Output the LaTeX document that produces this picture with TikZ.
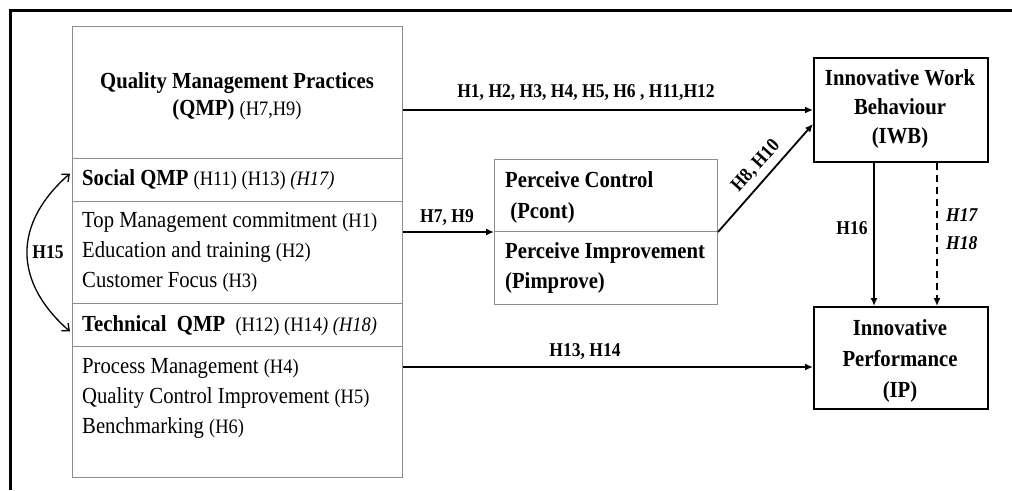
\documentclass[tikz,border=0pt]{standalone}
\usepackage{fontspec}
\setmainfont{Liberation Serif}[FakeStretch=0.9]
\usetikzlibrary{arrows.meta}

\definecolor{boxgray}{RGB}{140,140,140}
\newcommand{\bodyfont}{\fontsize{23}{30}\selectfont}
\newcommand{\hsmall}{\fontsize{20.5}{30}\selectfont}
\newcommand{\lblfont}{\fontsize{19.5}{28}\selectfont\bfseries}

\begin{document}
\begin{tikzpicture}[x=1pt,y=-1pt,
  sect/.style={draw=boxgray, line width=1pt, inner sep=0pt, anchor=north west, minimum width=330},
  pbox/.style={draw=boxgray, line width=1pt, inner sep=0pt, anchor=north west, minimum width=223},
  obox/.style={draw=black, line width=2pt, inner sep=0pt, anchor=north west, minimum width=174},
  txt/.style={font=\bodyfont, inner sep=0pt, anchor=west, align=left},
  ctxt/.style={font=\bodyfont\bfseries, inner sep=0pt, align=center},
  lbl/.style={font=\lblfont, inner sep=0pt},
  conn/.style={line width=1.8pt, -{Latex[length=8pt,width=7pt]}},
  dconn/.style={line width=1.5pt, dash pattern=on 7pt off 5pt, -{Latex[length=8pt,width=7pt]}},
  harrow/.style={line width=1.3pt, {Straight Barb[length=6pt,width=10pt]}-{Straight Barb[length=6pt,width=10pt]}}
]
\useasboundingbox (0,0) rectangle (1012,490);

% outer frame (open on the right and bottom)
\draw[line width=3pt] (10,490) -- (10,10) -- (1012,10);

% quality management practices column
\node[sect, minimum height=132] (qmp) at (72,26) {};
\node[sect, minimum height=43] (social) at (72,158) {};
\node[sect, minimum height=102] (socitems) at (72,201) {};
\node[sect, minimum height=43] (tech) at (72,303) {};
\node[sect, minimum height=131] (techitems) at (72,346) {};

\node[ctxt, align=center, font=\fontsize{23}{27}\selectfont\bfseries] (qmptxt) at (237,96)
  {Quality Management Practices\\(QMP) {\mdseries\hsmall (H7,H9)}};
\node[txt] (soctxt) at (82,180)
  {\textbf{Social QMP} {\hsmall (H11) (H13) \textit{(H17)}}};
\node[txt] (socitxt) at (82,252)
  {Top Management commitment {\hsmall (H1)}\\Education and training {\hsmall (H2)}\\Customer Focus {\hsmall (H3)}};
\node[txt] (techtxt) at (82,326)
  {\textbf{Technical\ \ QMP}\ \ {\hsmall (H12) (H14\textit{) (H18)}}};
\node[txt] (techitxt) at (82,398)
  {Process Management {\hsmall (H4)}\\Quality Control Improvement {\hsmall (H5)}\\Benchmarking {\hsmall (H6)}};

% perceived control / improvement
\node[pbox, minimum height=72] (pc) at (494,159) {};
\node[pbox, minimum height=73] (pi) at (494,231) {};
\node[txt, font=\fontsize{23}{31}\selectfont\bfseries] (pctxt) at (505,197) {Perceive Control\\\ (Pcont)};
\node[txt, font=\fontsize{23}{30}\selectfont\bfseries] (pitxt) at (505,268) {Perceive Improvement\\(Pimprove)};

% outcome boxes
\node[obox, minimum height=104] (iwb) at (813,57) {};
\node[ctxt, font=\fontsize{23}{29}\selectfont\bfseries] (iwbtxt) at (900,109) {Innovative Work\\Behaviour\\(IWB)};
\node[obox, minimum height=102] (ip) at (813,306) {};
\node[ctxt, font=\fontsize{23}{31}\selectfont\bfseries] (iptxt) at (900,361) {Innovative\\Performance\\(IP)};

% connectors
\coordinate (iwbin) at ([yshift=-14pt]iwb.west);
\coordinate (ipin) at ([yshift=-9pt]ip.west);
\draw[conn] (iwb.west -| qmp.east) -- (iwb.west);
\draw[conn] (pc.south west -| socitems.east) -- (pc.south west);
\draw[conn] (pc.south east) -- (iwbin);
\draw[conn] (ipin -| techitems.east) -- (ipin);
\draw[conn] ([xshift=-27pt]iwb.south) -- ([xshift=-27pt]ip.north);
\draw[dconn] ([xshift=36pt]iwb.south) -- ([xshift=36pt]ip.north);
\draw[harrow] ([xshift=-2pt,yshift=6.5pt]social.west) .. controls +(-57,50) and +(-57,-50) .. ([xshift=-2pt,yshift=-6.5pt]tech.west);

% connector labels
\node[lbl] (l1) at (586,93) {H1, H2, H3, H4, H5, H6 , H11,H12};
\node[lbl] (l2) at (447,218) {H7, H9};
\node[lbl, rotate=48] (l3) at (756,166) {H8, H10};
\node[lbl] (l4) at (585,352) {H13, H14};
\node[lbl] (l5) at (48,252) {H15};
\node[lbl] (l6) at (852,228) {H16};
\node[lbl, anchor=west, align=left, font=\lblfont\itshape] (l7) at (946,229) {H17\\H18};
\end{tikzpicture}
\end{document}
